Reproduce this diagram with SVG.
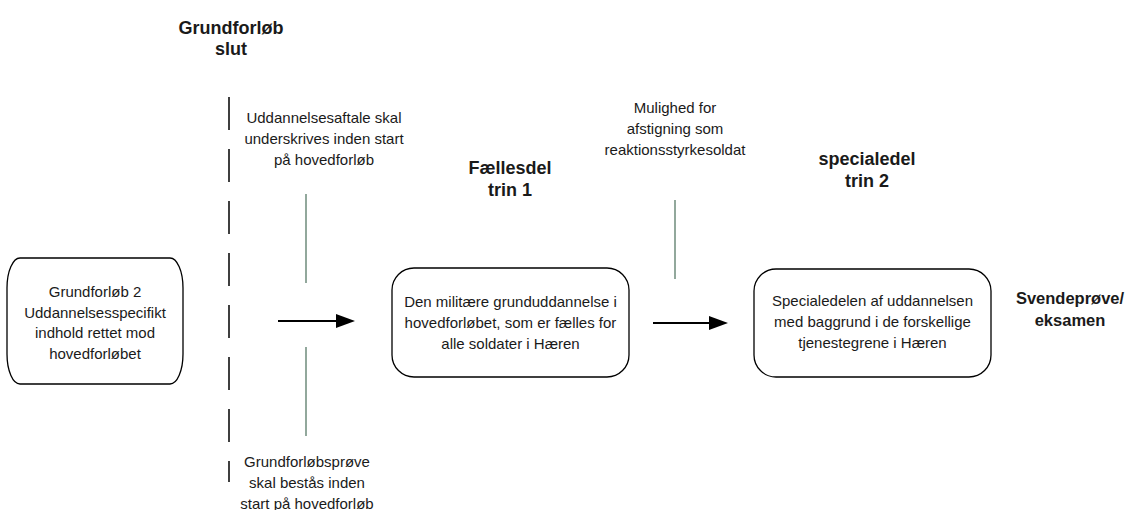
<svg xmlns="http://www.w3.org/2000/svg" width="1127" height="510" viewBox="0 0 1127 510">
<style>
text{font-family:"Liberation Sans",Arial,sans-serif;fill:#1a1a1a;text-anchor:middle}
.t{font-size:15px}
.b{font-size:18px;font-weight:bold}
.box{fill:#fff;stroke:#000;stroke-width:1.3}
.g{stroke:#6e8b7b;stroke-width:1.5}
</style>
<defs>
<marker id="ah" markerWidth="10" markerHeight="8" refX="9" refY="4" orient="auto" markerUnits="userSpaceOnUse" viewBox="0 0 10 8">
<path d="M0,0 L10,4 L0,8 Z" fill="#000"/>
</marker>
</defs>
<rect width="1127" height="510" fill="#fff"/>
<g id="connectors">
<line x1="229" y1="97" x2="229" y2="482" stroke="#000" stroke-width="1.5" stroke-dasharray="33 19"/>
<line class="g" x1="306" y1="194" x2="306" y2="283"/>
<line class="g" x1="306" y1="347" x2="306" y2="436"/>
<line class="g" x1="675" y1="200" x2="675" y2="279"/>
<line x1="278" y1="321" x2="340" y2="321" stroke="#000" stroke-width="2"/>
<path d="M336,314 L355,321 L336,328 Z" fill="#000"/>
<line x1="653" y1="323" x2="712" y2="323" stroke="#000" stroke-width="2"/>
<path d="M709,316 L728,323 L709,330 Z" fill="#000"/>
</g>
<g id="grundforloeb2">
<rect class="box" x="7" y="258" width="176" height="126" rx="13" ry="30"/>
<text class="t" x="95" y="297">Grundforløb 2</text>
<text class="t" x="95" y="318">Uddannelsesspecifikt</text>
<text class="t" x="95" y="338">indhold rettet mod</text>
<text class="t" x="95" y="359">hovedforløbet</text>
</g>
<g id="grundforloeb-slut">
<text class="b" x="231" y="34">Grundforløb</text>
<text class="b" x="231" y="55">slut</text>
</g>
<g id="uddannelsesaftale">
<text class="t" x="324" y="123">Uddannelsesaftale skal</text>
<text class="t" x="324" y="144">underskrives inden start</text>
<text class="t" x="324" y="165">på hovedforløb</text>
</g>
<g id="grundforloebsproeve">
<text class="t" x="307" y="467">Grundforløbsprøve</text>
<text class="t" x="307" y="488">skal bestås inden</text>
<text class="t" x="307" y="509">start på hovedforløb</text>
</g>
<g id="faellesdel-label">
<text class="b" x="510" y="174">Fællesdel</text>
<text class="b" x="510" y="196">trin 1</text>
</g>
<g id="faellesdel">
<rect class="box" x="392" y="268" width="237" height="109" rx="22" ry="22"/>
<text class="t" x="510.5" y="307">Den militære grunduddannelse i</text>
<text class="t" x="510.5" y="328">hovedforløbet, som er fælles for</text>
<text class="t" x="510.5" y="349">alle soldater i Hæren</text>
</g>
<g id="mulighed">
<text class="t" x="675" y="113">Mulighed for</text>
<text class="t" x="675" y="134">afstigning som</text>
<text class="t" x="675" y="155">reaktionsstyrkesoldat</text>
</g>
<g id="specialedel-label">
<text class="b" x="867" y="165">specialedel</text>
<text class="b" x="867" y="187">trin 2</text>
</g>
<g id="specialedel">
<rect class="box" x="754" y="269" width="237" height="108" rx="22" ry="22"/>
<text class="t" x="872.5" y="306">Specialedelen af uddannelsen</text>
<text class="t" x="872.5" y="327">med baggrund i de forskellige</text>
<text class="t" x="872.5" y="348">tjenestegrene i Hæren</text>
</g>
<g id="svendeproeve">
<text class="b" x="1070" y="304" style="font-size:16.5px">Svendeprøve/</text>
<text class="b" x="1070" y="326" style="font-size:16.5px">eksamen</text>
</g>
</svg>
